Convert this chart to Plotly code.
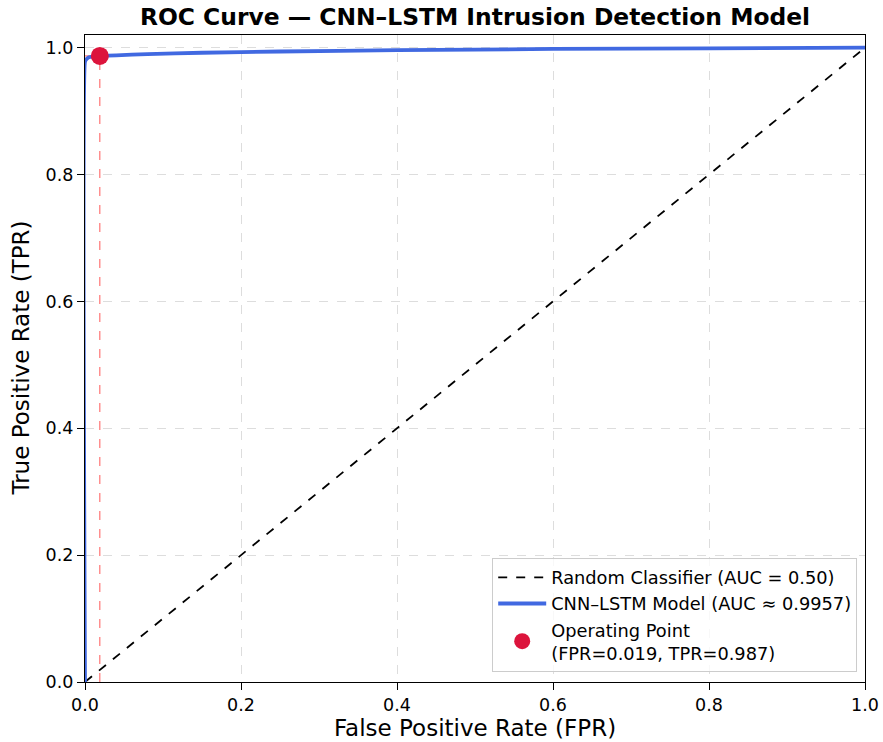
import plotly.graph_objects as go

# ROC curve points
fpr = [0.0, 0.0, 0.002, 0.005, 0.01, 0.019, 0.04, 0.08, 0.15, 0.25, 0.4, 0.6, 0.8, 1.0]
tpr = [0.0, 0.978, 0.982, 0.985, 0.986, 0.987, 0.988, 0.990, 0.992, 0.994, 0.996, 0.998, 0.999, 1.0]

rand_x = [0.0, 1.0]
rand_y = [0.0, 1.0]

op_fpr = [0.019]
op_tpr = [0.987]

x_ticks = [0.0, 0.2, 0.4, 0.6, 0.8, 1.0]
y_ticks = [0.0, 0.2, 0.4, 0.6, 0.8, 1.0]

font = "DejaVu Sans"

fig = go.Figure()

# operating point guide lines
fig.add_trace(go.Scatter(x=[op_fpr[0], op_fpr[0]], y=[0, op_tpr[0]], mode="lines",
                         line=dict(color="rgba(255,0,0,0.6)", width=1.1, dash="dash"),
                         showlegend=False, hoverinfo="skip"))
fig.add_trace(go.Scatter(x=[0, op_fpr[0]], y=[op_tpr[0], op_tpr[0]], mode="lines",
                         line=dict(color="rgba(255,0,0,0.6)", width=1.1, dash="dash"),
                         showlegend=False, hoverinfo="skip"))

fig.add_trace(go.Scatter(x=rand_x, y=rand_y, mode="lines",
                         line=dict(color="black", width=1.8, dash="dash"),
                         name="Random Classifier (AUC = 0.50)"))
fig.add_trace(go.Scatter(x=fpr, y=tpr, mode="lines",
                         line=dict(color="#4169E1", width=3.8, shape="spline", smoothing=0.4),
                         name="CNN–LSTM Model (AUC ≈ 0.9957)"))
fig.add_trace(go.Scatter(x=op_fpr, y=op_tpr, mode="markers",
                         marker=dict(color="#DC143C", size=18),
                         name="Operating Point<br>(FPR=0.019, TPR=0.987)"))

fig.update_layout(
    width=883, height=742,
    paper_bgcolor="white", plot_bgcolor="white",
    margin=dict(l=85, r=18, t=35, b=60),
    font=dict(family=font, color="black", size=17),
    title=dict(text="<b>ROC Curve — CNN–LSTM Intrusion Detection Model</b>",
               x=0.5, xref="paper", xanchor="center",
               y=1 - 17 / 742, yref="container", yanchor="middle",
               font=dict(size=23.4, family=font)),
    legend=dict(x=0.99, y=0.015, xanchor="right", yanchor="bottom",
                bgcolor="rgba(255,255,255,0.8)", bordercolor="#cccccc", borderwidth=1,
                font=dict(size=17.8, family=font), tracegroupgap=0, itemwidth=48),
    showlegend=True,
    annotations=[
        dict(text="False Positive Rate (FPR)", xref="paper", yref="paper",
             x=0.5, y=0, xanchor="center", yanchor="middle", yshift=-46,
             showarrow=False, font=dict(size=23, family=font)),
        dict(text="True Positive Rate (TPR)", xref="paper", yref="paper",
             x=0, y=0.5, xanchor="center", yanchor="middle", xshift=-65,
             textangle=-90, showarrow=False, font=dict(size=23, family=font)),
    ],
)

fig.update_xaxes(range=[0, 1], tickvals=x_ticks, ticktext=[f"{v:.1f}" for v in x_ticks],
                 showline=True, linecolor="black", linewidth=1.2, mirror=True,
                 ticks="outside", ticklen=7, tickcolor="black",
                 showgrid=True, gridcolor="#dddddd", griddash="dash", gridwidth=1,
                 zeroline=False, tickfont=dict(size=17.5), automargin=False)
fig.update_yaxes(range=[0, 1.02], tickvals=y_ticks, ticktext=[f"{v:.1f}" for v in y_ticks],
                 showline=True, linecolor="black", linewidth=1.2, mirror=True,
                 ticks="outside", ticklen=7, tickcolor="black",
                 showgrid=True, gridcolor="#dddddd", griddash="dash", gridwidth=1,
                 zeroline=False, tickfont=dict(size=17.5), automargin=False)

fig.write_html("out.html", config={"displayModeBar": False},
               post_script="document.body.style.margin='0';document.body.style.overflow='hidden';")
